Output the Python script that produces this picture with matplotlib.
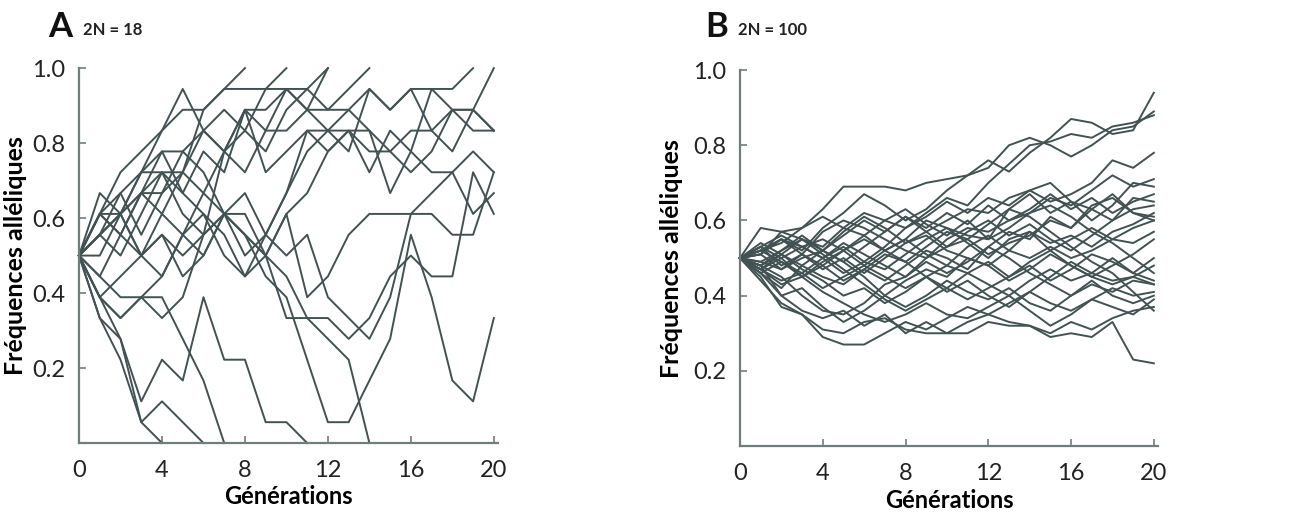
"""Dérive génétique : trajectoires de fréquences alléliques pour 2N = 18 et 2N = 100."""

import numpy as np
import matplotlib.pyplot as plt

plt.rcParams['font.family'] = ['Lato', 'DejaVu Sans']

LINE_COLOR = '#425252'
AXIS_COLOR = '#6f7d7d'

# ---------------------------------------------------------------------------
# Panel A : 2N = 18, allele counts (out of 18) per generation, until fixation
# ---------------------------------------------------------------------------
POP_A = 18
counts_a = [
    [9, 10, 12, 13, 15, 16, 16, 17, 18],
    [9, 11, 13, 14, 15, 17, 15, 14, 15, 17, 18],
    [9, 11, 11, 13, 13, 13, 16, 17, 17, 17, 17, 17, 18],
    [9, 8, 10, 12, 12, 13, 12, 14, 16, 15, 17, 16, 16, 17, 18],
    [9, 10, 11, 12, 11, 13, 15, 16, 15, 14, 16, 17, 16, 16, 17, 16, 17, 17, 17, 18],
    [9, 12, 11, 13, 14, 12, 14, 13, 16, 16, 17, 16, 18],
    [9, 11, 12, 10, 12, 14, 13, 11, 12, 10, 12, 15, 15, 14, 17, 16, 17, 15, 14, 16, 18],
    [9, 9, 11, 12, 14, 14, 15, 14, 13, 15, 15, 16, 15, 15, 14, 14, 15, 15, 16, 16, 15],
    [9, 10, 9, 11, 13, 11, 10, 14, 16, 13, 14, 15, 14, 15, 15, 12, 14, 17, 16, 16, 15],
    [9, 11, 10, 9, 11, 10, 12, 11, 10, 9, 11, 7, 8, 10, 11, 11, 11, 11, 10, 10, 13],
    [9, 7, 6, 7, 8, 10, 9, 11, 11, 9, 8, 6, 6, 5, 6, 8, 9, 8, 8, 13, 11],
    [9, 7, 8, 9, 10, 9, 10, 11, 10, 8, 7, 4, 1, 1, 3, 5, 10, 7, 3, 2, 6],
    [9, 10, 11, 9, 8, 10, 11, 10, 8, 10, 9, 10, 7, 6, 5, 7, 11, 12, 13, 11, 12],
    [9, 11, 10, 12, 13, 12, 11, 9, 8, 9, 11, 12, 14, 15, 13, 15, 14, 13, 13, 14, 13],
    [9, 7, 6, 7, 6, 7, 10, 11, 9, 10, 12, 14, 15, 16, 15, 14, 13, 14, 16, 15, 15],
    [9, 6, 4, 1, 0],
    [9, 7, 5, 2, 4, 3, 7, 4, 4, 1, 1, 0],
    [9, 6, 5, 1, 2, 1, 0],
    [9, 8, 7, 7, 7, 5, 3, 0],
    [9, 10, 11, 9, 10, 8, 9, 11, 10, 9, 6, 6, 5, 4, 0],
]

# ---------------------------------------------------------------------------
# Panel B : 2N = 100, allele frequencies per generation (0..20)
# ---------------------------------------------------------------------------
freqs_b = [
    [0.50, 0.58, 0.57, 0.58, 0.63, 0.69, 0.69, 0.69, 0.68, 0.70, 0.71, 0.72, 0.74, 0.80, 0.82, 0.80, 0.77, 0.80, 0.84, 0.85, 0.89],
    [0.50, 0.52, 0.55, 0.52, 0.58, 0.62, 0.67, 0.64, 0.60, 0.63, 0.68, 0.72, 0.76, 0.73, 0.78, 0.82, 0.87, 0.86, 0.83, 0.84, 0.94],
    [0.50, 0.47, 0.50, 0.53, 0.55, 0.52, 0.56, 0.60, 0.58, 0.62, 0.66, 0.64, 0.70, 0.75, 0.80, 0.81, 0.83, 0.82, 0.85, 0.86, 0.88],
    [0.50, 0.53, 0.48, 0.51, 0.47, 0.50, 0.46, 0.50, 0.54, 0.57, 0.60, 0.63, 0.62, 0.66, 0.68, 0.65, 0.67, 0.70, 0.76, 0.74, 0.78],
    [0.50, 0.48, 0.45, 0.40, 0.36, 0.35, 0.38, 0.43, 0.45, 0.50, 0.55, 0.58, 0.57, 0.60, 0.62, 0.66, 0.64, 0.68, 0.72, 0.69, 0.71],
    [0.50, 0.51, 0.57, 0.55, 0.53, 0.58, 0.56, 0.52, 0.55, 0.60, 0.58, 0.56, 0.55, 0.63, 0.67, 0.62, 0.65, 0.60, 0.64, 0.70, 0.69],
    [0.50, 0.46, 0.42, 0.48, 0.45, 0.43, 0.47, 0.44, 0.48, 0.52, 0.50, 0.47, 0.53, 0.57, 0.55, 0.61, 0.58, 0.63, 0.60, 0.66, 0.65],
    [0.50, 0.49, 0.52, 0.56, 0.52, 0.49, 0.45, 0.40, 0.44, 0.47, 0.45, 0.50, 0.48, 0.52, 0.57, 0.54, 0.56, 0.53, 0.57, 0.59, 0.62],
    [0.50, 0.52, 0.55, 0.51, 0.57, 0.60, 0.58, 0.55, 0.52, 0.50, 0.53, 0.55, 0.51, 0.54, 0.56, 0.60, 0.58, 0.64, 0.66, 0.62, 0.61],
    [0.50, 0.47, 0.44, 0.46, 0.50, 0.53, 0.49, 0.47, 0.51, 0.55, 0.58, 0.54, 0.50, 0.55, 0.57, 0.52, 0.55, 0.58, 0.55, 0.58, 0.60],
    [0.50, 0.52, 0.49, 0.46, 0.42, 0.45, 0.48, 0.52, 0.55, 0.51, 0.48, 0.53, 0.56, 0.52, 0.50, 0.53, 0.50, 0.52, 0.55, 0.54, 0.57],
    [0.50, 0.51, 0.47, 0.50, 0.52, 0.57, 0.61, 0.58, 0.54, 0.56, 0.52, 0.50, 0.48, 0.44, 0.47, 0.51, 0.48, 0.45, 0.48, 0.51, 0.55],
    [0.50, 0.48, 0.51, 0.47, 0.44, 0.40, 0.42, 0.38, 0.41, 0.45, 0.42, 0.46, 0.49, 0.45, 0.48, 0.44, 0.47, 0.51, 0.49, 0.46, 0.50],
    [0.50, 0.53, 0.50, 0.45, 0.49, 0.52, 0.48, 0.45, 0.42, 0.45, 0.48, 0.46, 0.43, 0.40, 0.44, 0.47, 0.44, 0.46, 0.44, 0.45, 0.48],
    [0.50, 0.46, 0.40, 0.42, 0.37, 0.33, 0.36, 0.40, 0.37, 0.40, 0.44, 0.41, 0.39, 0.42, 0.38, 0.36, 0.40, 0.43, 0.41, 0.44, 0.43],
    [0.50, 0.47, 0.43, 0.45, 0.41, 0.38, 0.35, 0.33, 0.35, 0.38, 0.35, 0.34, 0.37, 0.40, 0.36, 0.32, 0.35, 0.39, 0.42, 0.40, 0.41],
    [0.50, 0.44, 0.38, 0.35, 0.29, 0.27, 0.27, 0.30, 0.33, 0.31, 0.34, 0.37, 0.35, 0.38, 0.41, 0.38, 0.36, 0.39, 0.37, 0.35, 0.39],
    [0.50, 0.45, 0.37, 0.35, 0.31, 0.30, 0.33, 0.34, 0.31, 0.30, 0.30, 0.30, 0.33, 0.32, 0.32, 0.30, 0.33, 0.31, 0.34, 0.36, 0.37],
    [0.50, 0.48, 0.40, 0.36, 0.34, 0.36, 0.32, 0.35, 0.30, 0.33, 0.30, 0.33, 0.35, 0.33, 0.32, 0.29, 0.30, 0.29, 0.33, 0.23, 0.22],
    [0.50, 0.53, 0.56, 0.53, 0.50, 0.46, 0.49, 0.53, 0.58, 0.61, 0.65, 0.62, 0.66, 0.64, 0.68, 0.70, 0.65, 0.63, 0.67, 0.62, 0.60],
    [0.50, 0.52, 0.54, 0.58, 0.61, 0.58, 0.62, 0.60, 0.63, 0.59, 0.56, 0.60, 0.55, 0.58, 0.62, 0.64, 0.61, 0.57, 0.54, 0.50, 0.46],
    [0.50, 0.49, 0.47, 0.51, 0.48, 0.44, 0.47, 0.51, 0.49, 0.53, 0.57, 0.55, 0.59, 0.63, 0.61, 0.57, 0.53, 0.49, 0.46, 0.41, 0.36],
    [0.50, 0.51, 0.55, 0.53, 0.50, 0.54, 0.51, 0.48, 0.45, 0.49, 0.46, 0.49, 0.53, 0.50, 0.46, 0.43, 0.40, 0.44, 0.40, 0.38, 0.40],
    [0.50, 0.48, 0.52, 0.55, 0.51, 0.47, 0.43, 0.39, 0.36, 0.39, 0.42, 0.39, 0.42, 0.45, 0.49, 0.52, 0.48, 0.45, 0.43, 0.45, 0.43],
    [0.50, 0.47, 0.51, 0.55, 0.52, 0.56, 0.60, 0.57, 0.61, 0.58, 0.62, 0.59, 0.64, 0.60, 0.63, 0.67, 0.63, 0.66, 0.62, 0.65, 0.67],
    [0.50, 0.46, 0.49, 0.45, 0.48, 0.52, 0.55, 0.52, 0.49, 0.45, 0.41, 0.44, 0.40, 0.37, 0.41, 0.45, 0.49, 0.46, 0.50, 0.46, 0.44],
    [0.50, 0.54, 0.51, 0.48, 0.52, 0.49, 0.53, 0.57, 0.61, 0.57, 0.53, 0.57, 0.60, 0.56, 0.59, 0.55, 0.52, 0.56, 0.60, 0.63, 0.64],
]

x_ticks = [0, 4, 8, 12, 16, 20]
y_ticks = [0.2, 0.4, 0.6, 0.8, 1.0]
y_ticklabels = ['0.2', '0.4', '0.6', '0.8', '1.0']


def style_axis(ax, ylabel_x, xlabel_y):
    ax.set_xlim(0, 20.2)
    ax.set_ylim(0, 1.0)
    for side in ('top', 'right'):
        ax.spines[side].set_visible(False)
    for side in ('left', 'bottom'):
        ax.spines[side].set_color(AXIS_COLOR)
        ax.spines[side].set_linewidth(1.6)
    ax.set_xticks(x_ticks)
    ax.set_yticks(y_ticks)
    ax.set_yticklabels(y_ticklabels)
    ax.tick_params(direction='in', length=5, width=1.2, color=AXIS_COLOR,
                   labelsize=17, labelcolor='#222222')
    ax.tick_params(axis='x', pad=12)
    ax.tick_params(axis='y', pad=10)
    ax.set_xlabel('Générations', fontsize=17, fontweight='bold')
    ax.set_ylabel('Fréquences alléliques', fontsize=18, fontweight='bold')
    ax.yaxis.set_label_coords(ylabel_x, 0.5)
    ax.xaxis.set_label_coords(0.5, xlabel_y)


fig = plt.figure(figsize=(13.15, 5.31), dpi=100)
ax_a = fig.add_axes([0.0601, 0.1657, 0.3186, 0.706])
ax_b = fig.add_axes([0.5627, 0.160, 0.3179, 0.708])

for c in counts_a:
    f = np.array(c) / POP_A
    ax_a.plot(np.arange(len(f)), f, color=LINE_COLOR, lw=1.4, clip_on=False)

for f in freqs_b:
    ax_b.plot(np.arange(len(f)), f, color=LINE_COLOR, lw=1.4, clip_on=False)

style_axis(ax_a, -0.124, -0.112)
style_axis(ax_b, -0.136, -0.115)

fig.text(0.037, 0.93, 'A', fontsize=25, fontweight='bold', color='#111111', va='baseline')
fig.text(0.063, 0.934, '2N = 18', fontsize=12, fontweight='bold', color='#222222', va='baseline')
fig.text(0.536, 0.93, 'B', fontsize=25, fontweight='bold', color='#111111', va='baseline')
fig.text(0.561, 0.934, '2N = 100', fontsize=12, fontweight='bold', color='#222222', va='baseline')

fig.savefig('out.png', dpi=100)
